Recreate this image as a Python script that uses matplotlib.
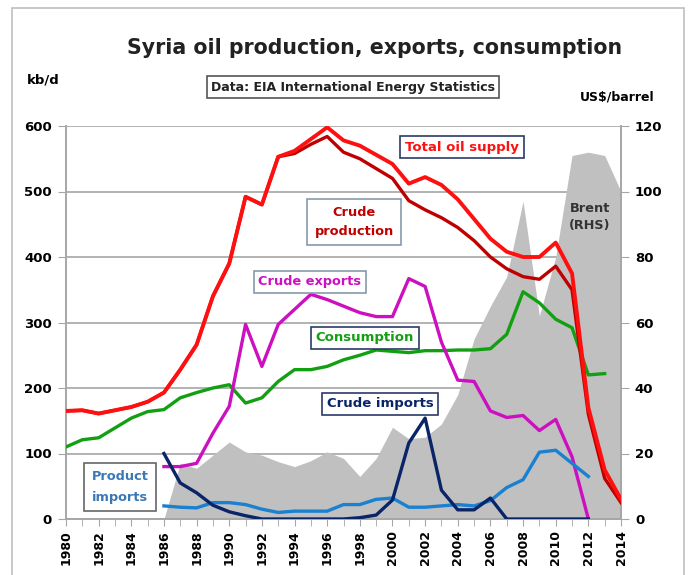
import matplotlib.pyplot as plt
import numpy as np
from matplotlib.patches import Rectangle

plt.rcParams['font.family'] = ['DejaVu Sans']
plt.rcParams['font.weight'] = 'bold'

# years
years = list(range(1980, 2015))

# kb/d
total_supply = [165, 166, 161, 166, 171, 179, 193, 228, 266, 340, 390, 492, 480, 553, 562, 580, 598,
                578, 570, 556, 542, 512, 522, 510, 488, 458, 428, 408, 400, 400, 422, 375, 170, 75, 30]
crude_prod = [165, 166, 161, 166, 171, 179, 193, 228, 266, 340, 390, 492, 480, 553, 558, 572, 584,
              560, 550, 535, 520, 486, 472, 460, 445, 425, 400, 382, 370, 366, 386, 350, 160, 62, 25]
consumption = [110, 121, 124, 139, 154, 164, 167, 185, 193, 200, 205, 177, 185, 210, 228, 228, 233,
               243, 250, 258, 256, 254, 257, 257, 258, 258, 260, 282, 347, 330, 305, 292, 220, 222]

exp_years = list(range(1986, 2013))
crude_exports = [80, 80, 85, 131, 172, 297, 233, 297, 320, 343, 335, 325, 315, 309, 309, 367, 355,
                 270, 212, 210, 165, 155, 158, 135, 152, 95, 0]

imp_years = list(range(1986, 2013))
crude_imports = [100, 55, 40, 21, 11, 5, 0, 0, 0, 0, 0, 0, 2, 6, 29, 116, 154, 44, 14, 14, 32, 0,
                 0, 0, 0, 0, 0]
product_imports = [20, 18, 17, 25, 25, 22, 15, 10, 12, 12, 12, 22, 22, 30, 32, 18, 18, 20, 22, 20,
                   28, 48, 60, 102, 105, 85, 65]

# Brent, US$/barrel (right axis)
brent_years = list(range(1986, 2015))
brent = [0, 17, 15.5, 19.5, 23.5, 20.5, 19.5, 17.5, 16, 17.8, 20.5, 18.5, 13, 18.5, 28, 24.5, 25,
         29, 38, 55, 65, 74, 97, 62, 80, 111, 112, 111, 100]

fig = plt.figure(figsize=(6.89, 5.75), dpi=100)
W, H = 689, 575
ax = fig.add_axes([66 / W, 1 - 519 / H, 555 / W, 393 / H])
ax2 = ax.twinx()
ax.set_zorder(ax2.get_zorder() + 1)
ax.patch.set_visible(False)

# brent area behind everything
ax2.fill_between(brent_years, brent, color='#c0c0c0', lw=0, zorder=2)
ax2.set_ylim(0, 120)
ax2.set_yticks(range(0, 121, 20))
ax2.yaxis.grid(True, color='#a6a6a6', lw=1.2, zorder=0)
ax2.set_axisbelow(True)

ax.plot(years, total_supply, color='#ff1010', lw=2.8, zorder=5)
ax.plot(years, crude_prod, color='#c00000', lw=2.4, zorder=4)
ax.plot(years[:len(consumption)], consumption, color='#12a012', lw=2.4, zorder=3)
ax.plot(exp_years, crude_exports, color='#cc10c0', lw=2.4, zorder=3)
ax.plot(imp_years, product_imports, color='#1a80d0', lw=2.4, zorder=3)
ax.plot(imp_years, crude_imports, color='#0a2468', lw=2.4, zorder=3)

ax.set_xlim(1980, 2014)
ax.set_ylim(0, 600)
ax.set_yticks(range(0, 601, 100))
ax.set_xticks(range(1980, 2015, 2))
ax.set_xticks(range(1980, 2015), minor=True)
ax.set_xticklabels([str(y) for y in range(1980, 2015, 2)], rotation=90, fontsize=9,
                   fontweight='bold')
for a in (ax, ax2):
    for s in a.spines.values():
        s.set_color('#a6a6a6')
        s.set_linewidth(1.2)
    a.spines['top'].set_visible(False)
    a.tick_params(axis='y', length=6, color='#a6a6a6', labelsize=9.5, pad=4)
ax.tick_params(axis='x', which='both', length=5, color='#a6a6a6', pad=3)
for lab in ax.get_yticklabels() + ax2.get_yticklabels():
    lab.set_fontweight('bold')


def px(x, y):
    return x / W, 1 - y / H


fs = 9.3
fig.text(*px(375, 48), 'Syria oil production, exports, consumption', ha='center', va='center',
         fontsize=14.8, fontweight='bold', color='#222222')
fig.text(*px(353, 87), 'Data: EIA International Energy Statistics', ha='center', va='center',
         fontsize=9, fontweight='bold', color='#222222',
         bbox=dict(boxstyle='square,pad=0.35', fc='white', ec='#555555', lw=1.2))
fig.text(*px(43, 80), 'kb/d', ha='center', va='center', fontsize=9.5, fontweight='bold')
fig.text(*px(617, 97), 'US$/barrel', ha='center', va='center', fontsize=9, fontweight='bold')

fig.text(*px(462, 147), 'Total oil supply', ha='center', va='center', fontsize=9.5,
         fontweight='bold', color='#ff1010',
         bbox=dict(boxstyle='square,pad=0.35', fc='white', ec='#2b3a67', lw=1.2), zorder=10)
fig.text(*px(354, 222), 'Crude\nproduction', ha='center', va='center', fontsize=fs,
         fontweight='bold', color='#c00000', linespacing=1.6,
         bbox=dict(boxstyle='square,pad=0.55', fc='white', ec='#8899aa', lw=1.2), zorder=10)
fig.text(*px(310, 282), 'Crude exports', ha='center', va='center', fontsize=fs,
         fontweight='bold', color='#cc10c0',
         bbox=dict(boxstyle='square,pad=0.35', fc='white', ec='#8899aa', lw=1.2), zorder=10)
fig.text(*px(365, 338), 'Consumption', ha='center', va='center', fontsize=9.5,
         fontweight='bold', color='#12a012',
         bbox=dict(boxstyle='square,pad=0.35', fc='white', ec='#2b3a67', lw=1.2), zorder=10)
fig.text(*px(380, 404), 'Crude imports', ha='center', va='center', fontsize=9.5,
         fontweight='bold', color='#0a2468',
         bbox=dict(boxstyle='square,pad=0.35', fc='white', ec='#2b3a67', lw=1.2), zorder=10)
fig.text(*px(120, 487), 'Product\nimports', ha='center', va='center', fontsize=fs,
         fontweight='bold', color='#3a78b8', linespacing=1.7,
         bbox=dict(boxstyle='square,pad=0.55', fc='white', ec='#666666', lw=1.2), zorder=10)
fig.text(*px(590, 217), 'Brent\n(RHS)', ha='center', va='center', fontsize=fs,
         fontweight='bold', color='#333333', linespacing=1.4, zorder=10)

# outer chart border
fig.patches.append(Rectangle((12 / W, -0.02), 672 / W, 1 - 8 / H + 0.02,
                             transform=fig.transFigure, fill=False, ec='#bfbfbf', lw=1.2))

fig.savefig('out.png', dpi=100)
